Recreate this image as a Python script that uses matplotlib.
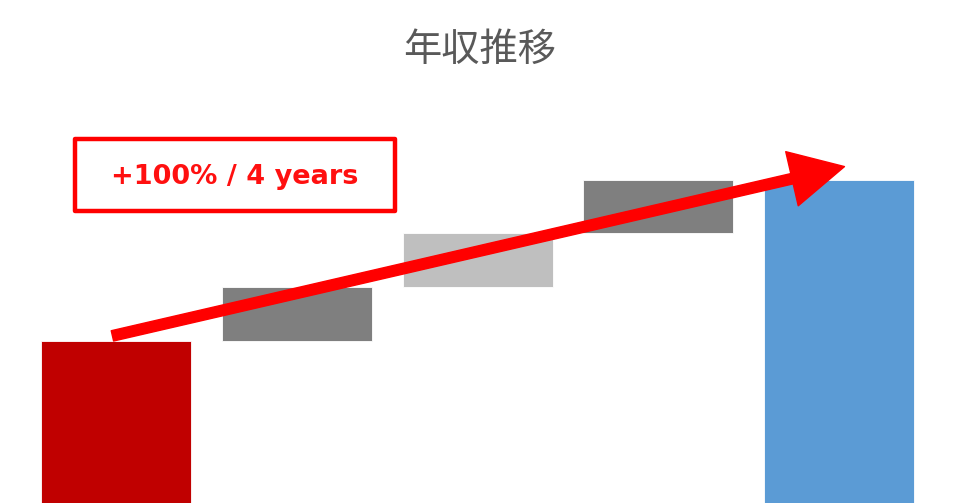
import matplotlib
matplotlib.use("Agg")
import matplotlib.pyplot as plt
from matplotlib.patches import FancyArrowPatch, Rectangle

plt.rcParams['font.family'] = ['Noto Sans CJK JP', 'DejaVu Sans']

title = "年収推移"
categories = ["start", "year1", "year2", "year3", "end"]
start_value = 300
steps = [100, 100, 100]
end_value = 600
bar_colors = ["#C00000", "#7F7F7F", "#BFBFBF", "#7F7F7F", "#5B9BD5"]
label_text = "+100% / 4 years"

# waterfall bottoms/heights
bottoms = [0]
heights = [start_value]
running = start_value
for s in steps:
    bottoms.append(running)
    heights.append(s)
    running += s
bottoms.append(0)
heights.append(end_value)

fig = plt.figure(figsize=(9.6, 5.03), dpi=100)
ax = fig.add_axes([0, 0, 1, 1])
x = list(range(len(categories)))
ax.bar(x, heights, bottom=bottoms, width=0.83, color=bar_colors, edgecolor='white', linewidth=0.6)
ax.set_xlim(-0.642, 4.669)
ax.set_ylim(0, 933)
ax.axis('off')

fig.text(0.5, 1 - 50 / 503, title, ha='center', va='center', fontsize=27.5, color='#595959')

# arrow from first bar top to last bar top
arrow = FancyArrowPatch((x[0] - 0.02, start_value + 10), (x[-1] + 0.03, end_value + 24),
                        arrowstyle='simple,head_length=0.97,head_width=1.0,tail_width=0.19',
                        mutation_scale=40, color='#FF0000', shrinkA=0, shrinkB=0, zorder=5)
ax.add_patch(arrow)

# label box
fig.patches.append(Rectangle((75 / 960, 1 - 211 / 503), 320 / 960, 72 / 503,
                             transform=fig.transFigure, facecolor='white',
                             edgecolor='#FF0000', linewidth=3.2, joinstyle='round', zorder=6))
fig.text(235 / 960, 1 - 177 / 503, label_text, ha='center', va='center', fontsize=19.5,
         fontweight='bold', color='#FF1010', family=['DejaVu Sans'], zorder=7)

fig.savefig('out.png', dpi=100)
